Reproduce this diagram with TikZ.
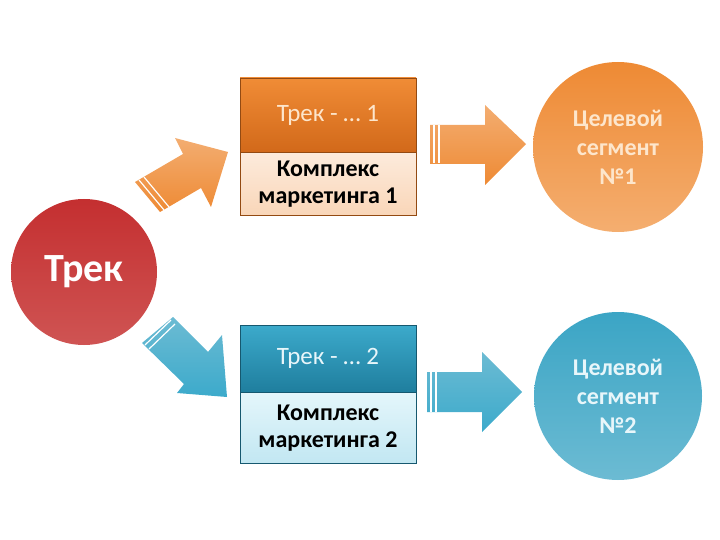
\documentclass[tikz,border=0pt]{standalone}
\usepackage{fontspec}
\setmainfont{Carlito}
\usetikzlibrary{positioning}

\definecolor{redA}{HTML}{C42F30}
\definecolor{redB}{HTML}{CF5453}
\definecolor{orA}{HTML}{F08C36}
\definecolor{orB}{HTML}{D2691A}
\definecolor{orC}{HTML}{FDEBDC}
\definecolor{orD}{HTML}{F9D6B8}
\definecolor{orE}{HTML}{EE8A34}
\definecolor{orF}{HTML}{F4AE70}
\definecolor{orTxt}{HTML}{FDE6CC}
\definecolor{blA}{HTML}{3CAACB}
\definecolor{blB}{HTML}{1F7E9E}
\definecolor{blC}{HTML}{E4F6FB}
\definecolor{blD}{HTML}{C2E7F2}
\definecolor{blE}{HTML}{3BA5C5}
\definecolor{blF}{HTML}{6CBBD3}
\definecolor{blTxt}{HTML}{E8F6FA}

\begin{document}
\begin{tikzpicture}[x=1pt,y=-1pt]
	\tikzstyle{circ}=[circle,inner sep=0pt,align=center,font=\bfseries\fontsize{24}{29}\selectfont]
	\tikzstyle{hdr}=[rectangle,inner sep=0pt,minimum width=176pt,font=\fontsize{25}{29}\selectfont]
	\tikzstyle{mix}=[rectangle,inner sep=0pt,minimum width=176pt,align=center,font=\bfseries\fontsize{24}{27}\selectfont]
	\tikzstyle{orarrow}=[top color=orE!70!white,bottom color=orE]
	\tikzstyle{blarrow}=[top color=blF,bottom color=blA]
	\tikzstyle{stripe}=[white,line width=1.2pt]

	\useasboundingbox (0,0) rectangle (720,540);

	% start
	\node[circ,minimum size=146pt,top color=redA,bottom color=redB,text=white,
		font=\bfseries\fontsize{40}{44}\selectfont] (track) at (84,272) {Трек};

	% first track
	\node[hdr,minimum height=74pt,top color=orA,bottom color=orB,draw=orB!70!black,text=orTxt] (head1) at (328,115) {Трек - … 1};
	\node[mix,minimum height=63pt,below=0pt of head1,top color=orC,bottom color=orD,draw=orB!70!black] (mix1) {Комплекс\\маркетинга 1};
	\node[circ,minimum size=170pt,top color=orE,bottom color=orF,text=orTxt] (seg1) at (618,147) {Целевой\\сегмент\\№1};

	% second track
	\node[hdr,minimum height=67pt,top color=blA,bottom color=blB,draw=blB!70!black,text=blTxt] (head2) at (328,358.5) {Трек - … 2};
	\node[mix,minimum height=71pt,below=0pt of head2,top color=blC,bottom color=blD,draw=blB!70!black] (mix2) {Комплекс\\маркетинга 2};
	\node[circ,minimum size=168pt,top color=blE,bottom color=blF,text=blTxt] (seg2) at (618,396) {Целевой\\сегмент\\№2};

	% arrows from the start
	\coordinate (up) at (135,182);
	\shade[orarrow] (up) -- (183,154) -- (175,138) -- (228,152) -- (211,207) -- (201,188) -- (160,212) -- cycle;
	\draw[stripe] (139,180) -- (164,210);
	\draw[stripe] (144,177) -- (169,207);
	\coordinate (down) at (173,317);
	\shade[blarrow] (down) -- (208,352) -- (222,335) -- (227,397) -- (177,393) -- (184,384) -- (142,343) -- cycle;
	\draw[stripe] (171,320) -- (145,345);
	\draw[stripe] (175,324) -- (149,349);

	% arrows to the segments
	\coordinate (to1) at (430,144);
	\shade[orarrow] (to1) ++(0,-19) -- ++(55,0) -- ++(0,-20) -- ++(41,39) -- ++(-41,41) -- ++(0,-21) -- ++(-55,0) -- cycle;
	\foreach \d in {4,9} \draw[stripe] (to1) ++(\d,-19) -- ++(0,38);
	\coordinate (to2) at (427,392);
	\shade[blarrow] (to2) ++(0,-20) -- ++(55,0) -- ++(0,-20) -- ++(40,40) -- ++(-40,40) -- ++(0,-20) -- ++(-55,0) -- cycle;
	\foreach \d in {4,9} \draw[stripe] (to2) ++(\d,-20) -- ++(0,40);
\end{tikzpicture}
\end{document}
